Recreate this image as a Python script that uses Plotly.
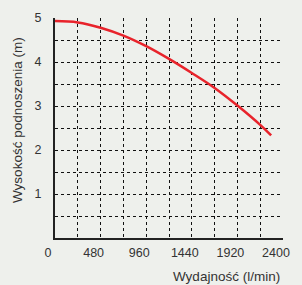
import plotly.graph_objects as go

flow = [0, 240, 480, 720, 960, 1200, 1440, 1680, 1920, 2160, 2275]
head = [4.93, 4.90, 4.78, 4.60, 4.36, 4.07, 3.75, 3.41, 3.01, 2.57, 2.33]

x_ticks = [0, 480, 960, 1440, 1920, 2400]
y_ticks = [1, 2, 3, 4, 5]
x_title = "Wydajność (l/min)"
y_title = "Wysokość podnoszenia (m)"

font_family = "Liberation Sans, Arial, sans-serif"
text_color = "#333333"

fig = go.Figure()
fig.add_trace(go.Scatter(
    x=flow, y=head, mode="lines",
    line=dict(color="#e8232b", width=2.5, shape="spline", smoothing=1.0),
    hoverinfo="skip", showlegend=False,
))

grid_common = dict(gridcolor="#111111", gridwidth=1, griddash="3px,3px")

fig.update_xaxes(
    range=[0, 2400], tickvals=x_ticks, ticktext=[str(v) for v in x_ticks],
    showline=True, linecolor="#222222", linewidth=2,
    showgrid=True, **grid_common,
    minor=dict(dtick=240, showgrid=True, **grid_common),
    zeroline=False, ticks="", ticklabelshift=-7, ticklabelstandoff=2,
    tickfont=dict(family=font_family, size=12.5, color=text_color),
    fixedrange=True,
)
fig.update_yaxes(
    range=[0, 5], tickvals=y_ticks, ticktext=[str(v) for v in y_ticks],
    showline=True, linecolor="#222222", linewidth=2,
    showgrid=True, **grid_common,
    minor=dict(dtick=0.5, showgrid=True, **grid_common),
    zeroline=False, ticks="", ticklabelstandoff=9,
    tickfont=dict(family=font_family, size=12.5, color=text_color),
    fixedrange=True,
)

fig.add_annotation(
    text=x_title, xref="paper", yref="paper", x=1.0, y=-0.165,
    xanchor="right", yanchor="middle", showarrow=False, xshift=-1, yshift=-2,
    font=dict(family=font_family, size=13.5, color=text_color),
)
fig.add_annotation(
    text=y_title, xref="paper", yref="paper", x=0, y=0.5,
    xanchor="center", yanchor="middle", textangle=-90, showarrow=False,
    xshift=-38, yshift=8,
    font=dict(family=font_family, size=13.5, color=text_color),
)

fig.update_layout(
    width=302, height=285,
    margin=dict(l=55, r=19, t=11, b=47),
    paper_bgcolor="#eef0ec", plot_bgcolor="rgba(0,0,0,0)",
    showlegend=False,
)

fig.write_html(
    "out.html",
    config={"displayModeBar": False},
    post_script="document.body.style.margin='0';document.body.style.overflow='hidden';document.body.style.background='#eef0ec';",
)
